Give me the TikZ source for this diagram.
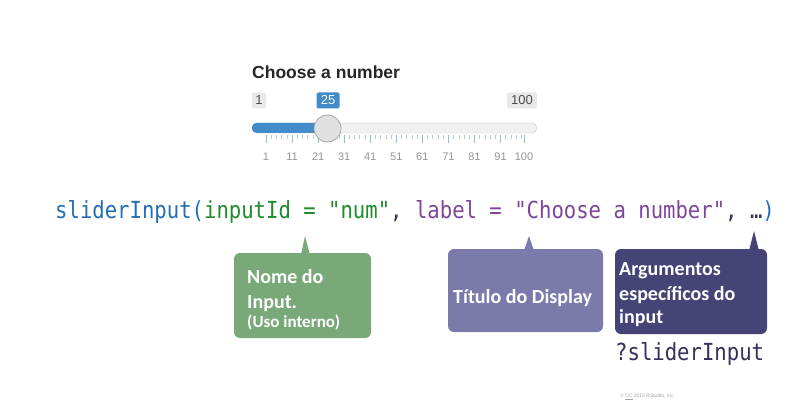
\documentclass[tikz,border=0pt]{standalone}
\usepackage{fontspec}
\setmainfont{Liberation Sans}
\newfontfamily\calib{Carlito}
\newfontfamily\codefont[FakeStretch=0.877]{DejaVu Sans Mono}
\definecolor{cblue}{RGB}{35,110,180}
\definecolor{cgreen}{RGB}{30,140,45}
\definecolor{cpurple}{RGB}{125,70,155}
\definecolor{cdark}{RGB}{50,50,90}
\definecolor{greenbox}{RGB}{121,168,121}
\definecolor{purplebox}{RGB}{122,122,171}
\definecolor{darkbox}{RGB}{68,68,119}
\definecolor{sblue}{RGB}{66,139,202}
\definecolor{sgray}{RGB}{232,232,232}
\definecolor{tickmaj}{RGB}{150,185,215}
\definecolor{tickmin}{RGB}{185,200,215}
\tikzset{
  callout/.style={rounded corners=6pt, inner sep=0pt, draw=none},
  boxtext/.style={anchor=base west, inner sep=0pt, text=white, font=\calib\bfseries\fontsize{20}{24}\selectfont},
  valbox/.style={rounded corners=2pt, inner sep=0pt, minimum height=16pt, font=\fontsize{13}{15}\selectfont},
  ticklab/.style={text=black!42, font=\fontsize{11}{13}\selectfont, inner sep=0pt},
  codetext/.style={anchor=base west, inner sep=0pt, font=\codefont\fontsize{23.5}{28}\selectfont}
}
\begin{document}
\begin{tikzpicture}[x=1pt,y=-1pt]
\useasboundingbox (0,0) rectangle (786,406);
\fill[white] (0,0) rectangle (786,406);

% slider
\node[anchor=base west, inner sep=0pt, text=black!85, font=\bfseries\fontsize{17.5}{20}\selectfont] (title) at (252,79) {Choose a number};
\node[valbox, fill=sgray, text=black!70, minimum width=14pt] (vmin) at (259,100.5) {1};
\node[valbox, fill=sblue, text=white, minimum width=23pt] (vcur) at (328,100.5) {25};
\node[valbox, fill=sgray, text=black!70, minimum width=30pt] (vmax) at (522,100.5) {100};
\node[draw=black!22, fill=black!6, rounded corners=5pt, minimum width=285pt, minimum height=10pt, inner sep=0pt] (track) at (394.5,128) {};
\fill[sblue, rounded corners=5pt] (track.north west) rectangle (328,133);
\foreach \v [count=\i] in {1,11,21,31,41,51,61,71,81,91,100}{
  \pgfmathsetmacro{\xx}{266+(\v-1)*2.606}
  \draw[tickmaj, line width=0.9pt] (\xx,135) -- (\xx,143);
  \node[ticklab] (tl\i) at (\xx,157) {\v};
}
\foreach \k in {0,...,9}{
  \foreach \m in {1,...,4}{
    \pgfmathsetmacro{\xx}{266+\k*26.06+\m*5.212}
    \draw[tickmin, line width=0.7pt] (\xx,135) -- (\xx,139);
  }
}
\node[circle, draw=black!35, fill=black!12, minimum size=27pt, inner sep=0pt, line width=0.8pt] (handle) at (327.5,128.5) {};

% code line
\node[codetext] (code) at (55,218) {\textcolor{cblue}{sliderInput(}\textcolor{cgreen}{inputId = "num"}\textcolor{cdark}{, }\textcolor{cpurple}{label = "Choose a number"}\textcolor{cdark}{, …}\textcolor{cblue}{)}};

% callouts
\coordinate (tipA) at (305,236);
\coordinate (tipB) at (529,236);
\coordinate (tipC) at (754,231);
\node[callout, fill=greenbox, minimum width=137pt, minimum height=85pt] (nome) at (302.5,295.5) {};
\fill[greenbox] ([xshift=-1.5pt,yshift=-2pt]nome.north) -- (tipA) -- ([xshift=7.5pt,yshift=-2pt]nome.north) -- cycle;
\node[callout, fill=purplebox, minimum width=155pt, minimum height=83pt] (titulo) at (525.5,290.5) {};
\fill[purplebox] ([xshift=-1.5pt,yshift=-2pt]titulo.north) -- (tipB) -- ([xshift=8.5pt,yshift=-2pt]titulo.north) -- cycle;
\node[callout, fill=darkbox, minimum width=152pt, minimum height=85pt] (args) at (691,291.5) {};
\fill[darkbox] ([xshift=58pt,yshift=-2pt]args.north) -- (tipC) -- ([xshift=68pt,yshift=-2pt]args.north) -- cycle;

\node[boxtext] (n1) at (247,283) {Nome do};
\node[boxtext] (n2) at (247,308) {Input.};
\node[boxtext, font=\calib\bfseries\fontsize{17}{20}\selectfont] (n3) at (247,327) {(Uso interno)};
\node[boxtext] (t1) at (453,303) {Título do Display};
\node[boxtext] (a1) at (619,275) {Argumentos};
\node[boxtext] (a2) at (619,300) {específicos do};
\node[boxtext] (a3) at (619,323) {input};

\node[codetext, text=cdark] (help) at (615,360) {?sliderInput};

\node[anchor=west, inner sep=0pt, text=black!35, font=\fontsize{5}{6}\selectfont] (copy) at (620,397) {© \underline{CC} 2015 RStudio, Inc.};
\end{tikzpicture}
\end{document}
